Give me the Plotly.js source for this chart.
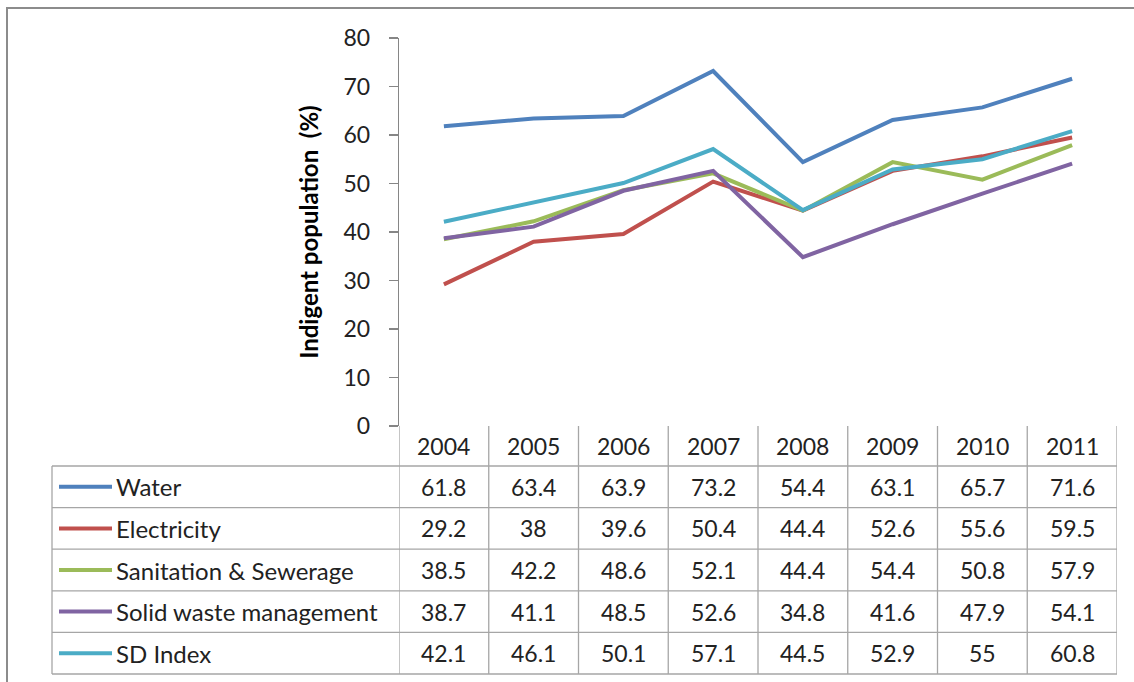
<!DOCTYPE html>
<html>
<head>
<meta charset="utf-8">
<script src="https://cdn.plot.ly/plotly-3.0.1.min.js"></script>
<style>html,body{margin:0;padding:0;background:#fff;}#chart{width:1134px;height:682px;}</style>
</head>
<body>
<div id="chart"></div>
<script>
var years = ["2004","2005","2006","2007","2008","2009","2010","2011"];
var seriesNames = ["Water","Electricity","Sanitation & Sewerage","Solid waste management","SD Index"];
var water = [61.8, 63.4, 63.9, 73.2, 54.4, 63.1, 65.7, 71.6];
var electricity = [29.2, 38, 39.6, 50.4, 44.4, 52.6, 55.6, 59.5];
var sanitation = [38.5, 42.2, 48.6, 52.1, 44.4, 54.4, 50.8, 57.9];
var solidWaste = [38.7, 41.1, 48.5, 52.6, 34.8, 41.6, 47.9, 54.1];
var sdIndex = [42.1, 46.1, 50.1, 57.1, 44.5, 52.9, 55, 60.8];
var seriesValues = [water, electricity, sanitation, solidWaste, sdIndex];
var colors = ["#4F81BD","#C0504D","#9BBB59","#8064A2","#4BACC6"];

var W = 1134, H = 682;
var L = 399, R = 1117, T = 38, B = 426;
function px(x){ return (x - L) / (R - L); }
function py(y){ return (B - y) / (B - T); }

var FONT = "Lato, 'Open Sans', sans-serif";
var gridColor = "#A6A6A6";
var headerBottom = 466, rowH = 41.6;

var traces = seriesValues.map(function(v, i){
  return {x: years, y: v, type: "scatter", mode: "lines", name: seriesNames[i],
          line: {color: colors[i], width: 4}, showlegend: false, hoverinfo: "x+y+name"};
});

var shapes = [], annotations = [];
// outer border
shapes.push({type:"rect", xref:"paper", yref:"paper", x0:px(7), x1:px(1145), y0:py(8), y1:py(700),
  line:{color:"#8C8C8C", width:2}});
// horizontal grid lines of table
for (var r = 0; r <= seriesNames.length; r++){
  var yy = headerBottom + r * rowH;
  shapes.push({type:"line", xref:"paper", yref:"paper", x0:px(52), x1:1, y0:py(yy), y1:py(yy),
    line:{color:gridColor, width:1.3}});
}
// vertical lines
shapes.push({type:"line", xref:"paper", yref:"paper", x0:px(52), x1:px(52), y0:py(headerBottom), y1:py(headerBottom + 5*rowH),
  line:{color:gridColor, width:1.3}});
for (var k = 0; k <= years.length; k++){
  shapes.push({type:"line", xref:"x", yref:"paper", x0:k - 0.5, x1:k - 0.5, y0:0, y1:py(headerBottom + 5*rowH),
    line:{color:gridColor, width:1.3}});
}
// header years
years.forEach(function(yr, j){
  annotations.push({x: j, xref:"x", yref:"paper", y: py((B + headerBottom)/2), text: yr, showarrow:false,
    font:{family:FONT, size:23, color:"#222"}, xanchor:"center", yanchor:"middle"});
});
// rows
seriesNames.forEach(function(name, i){
  var cy = headerBottom + (i + 0.5) * rowH;
  shapes.push({type:"line", xref:"paper", yref:"paper", x0:px(59), x1:px(112), y0:py(cy), y1:py(cy),
    line:{color:colors[i], width:4}});
  annotations.push({xref:"paper", yref:"paper", x:px(114), y:py(cy), text:name, showarrow:false,
    xanchor:"left", yanchor:"middle", font:{family:FONT, size:24, color:"#222"}});
  seriesValues[i].forEach(function(v, j){
    annotations.push({x: j, xref:"x", yref:"paper", y: py(cy), text: String(v), showarrow:false,
      xanchor:"center", yanchor:"middle", font:{family:FONT, size:23, color:"#222"}});
  });
});

var layout = {
  width: W, height: H,
  margin: {l: L, r: W - R, t: T, b: H - B, pad: 0},
  paper_bgcolor: "#fff", plot_bgcolor: "#fff",
  showlegend: false,
  xaxis: {type:"category", range:[-0.5, 7.5], showticklabels:false, ticks:"", showgrid:false,
    zeroline:false, showline:false, fixedrange:true},
  yaxis: {range:[0, 80], dtick:10, tick0:0, showgrid:false, zeroline:false, showline:true,
    linecolor:"#868686", linewidth:1.3, ticks:"outside", ticklen:9, tickcolor:"#868686", tickwidth:1.3,
    ticklabelstandoff: 14,
    tickfont:{family:FONT, size:23, color:"#222"},
    title:{text:"Indigent population  (%)", standoff: 18, font:{family:FONT, size:24, color:"#000", weight:"bold"}},
    fixedrange:true},
  shapes: shapes,
  annotations: annotations
};
Plotly.newPlot("chart", traces, layout, {displayModeBar:false, staticPlot:true});
</script>
</body>
</html>
